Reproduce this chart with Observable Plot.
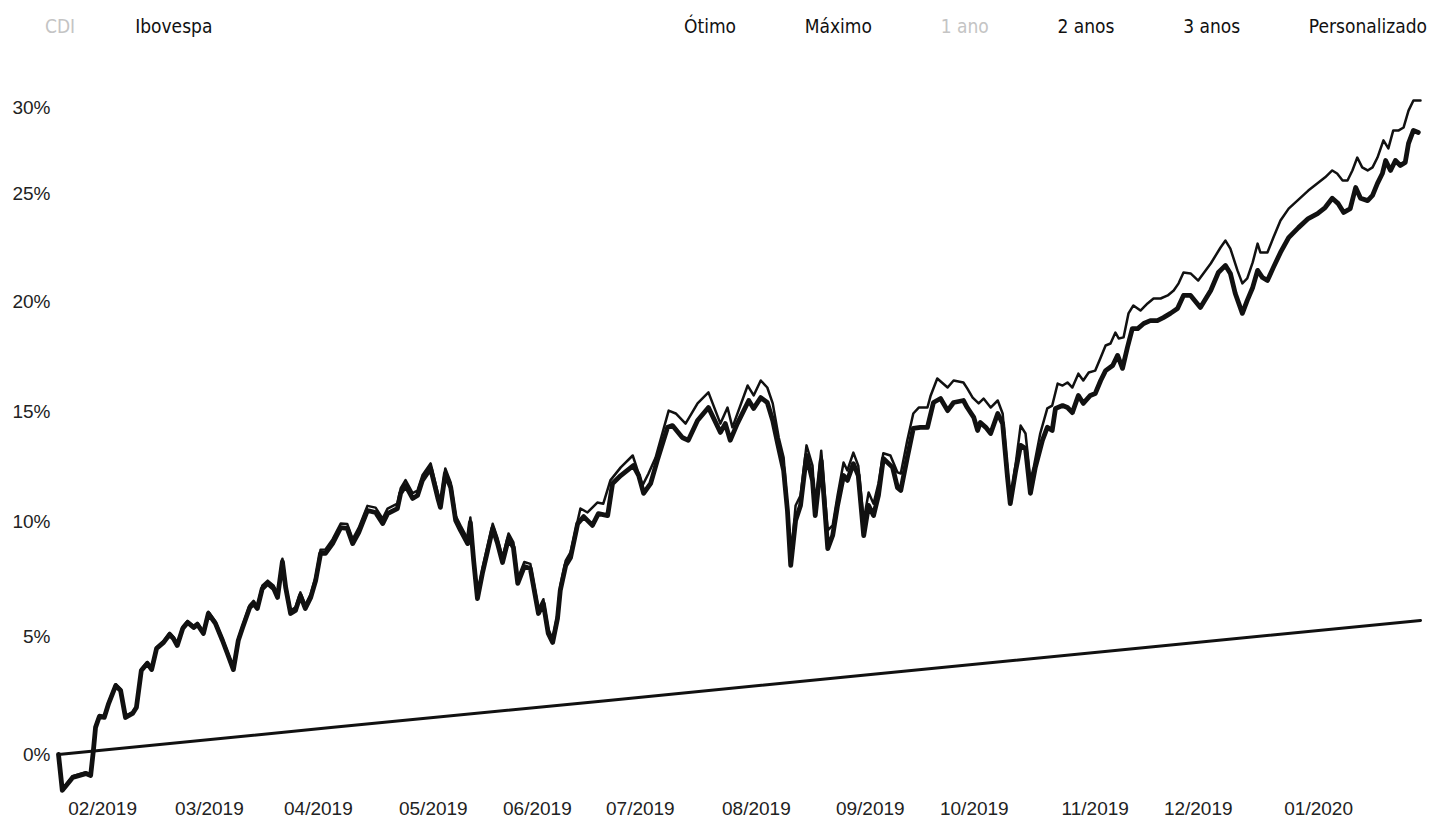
<!DOCTYPE html>
<html>
<head>
<meta charset="utf-8">
<script src="https://cdn.jsdelivr.net/npm/d3@7"></script>
<script src="https://cdn.jsdelivr.net/npm/@observablehq/plot@0.6"></script>
<style>
  html, body { margin: 0; padding: 0; background: #fff; }
  #wrap { width: 1441px; height: 824px; position: relative; overflow: hidden; }
  #header { position: relative; height: 50px; width: 1441px;
    font-family: "Liberation Sans Narrow", "DejaVu Sans Condensed", Roboto, sans-serif;
    font-size: 19px; color: #111; }
  #legend { position: absolute; left: 45px; top: 15px; display: flex; gap: 60px; }
  #periods { position: absolute; left: 684px; right: 14px; top: 15px; display: flex; justify-content: space-between; }
  .faint { color: #c4c4c4; }
  svg { display: block; }
</style>
</head>
<body>
<div id="wrap">
  <div id="header"><div id="legend"></div><div id="periods"></div></div>
  <div id="chart"></div>
</div>
<script>
// ---- Data ----
const legendLabels = ["CDI", "Ibovespa"];
const legendFaint = [true, false];
const periodLabels = ["Ótimo", "Máximo", "1 ano", "2 anos", "3 anos", "Personalizado"];
const periodFaint = [false, false, true, false, false, false];

// x = trading-day index (0 … 250)
const tickDays = [8.1, 27.7, 47.7, 68.8, 87.9, 106.8, 128.1, 149.0, 168.1, 190.3, 209.2, 231.3];
const tickLabels = ["02/2019", "03/2019", "04/2019", "05/2019", "06/2019", "07/2019", "08/2019", "09/2019", "10/2019", "11/2019", "12/2019", "01/2020"];
const yTicks = [0, 5, 10, 15, 20, 25, 30];

// Thick series (fund), % return
const fundoDias = [0.0,0.7,2.6,5.0,5.9,6.4,6.8,7.5,8.4,9.2,10.5,11.4,12.3,13.6,14.3,15.2,16.3,17.1,18.0,19.3,20.4,21.1,21.8,22.8,23.7,24.8,25.5,26.6,27.5,28.8,30.1,31.0,32.1,33.0,33.8,35.1,35.8,36.5,37.4,38.4,39.5,40.2,41.1,41.7,42.6,43.5,44.4,45.3,46.3,47.2,48.1,49.0,50.3,51.8,53.0,54.0,55.1,56.7,58.2,59.5,60.4,62.2,62.8,63.7,65.0,65.9,66.8,68.3,69.6,70.1,71.0,72.0,72.9,73.8,75.1,75.6,76.2,76.9,77.8,79.7,80.6,81.5,82.6,83.5,84.3,85.5,86.6,88.1,89.0,89.9,90.7,91.6,92.1,93.1,94.0,95.3,96.4,98.0,99.1,100.8,101.7,103.2,105.5,106.5,107.4,108.7,109.9,111.8,112.7,114.5,115.6,117.3,119.3,121.5,122.4,123.3,124.6,126.7,127.6,128.9,130.1,131.1,132.0,133.1,133.8,134.4,135.3,136.2,137.3,138.4,138.9,140.0,141.2,142.1,143.0,144.1,144.8,145.9,146.8,147.8,148.7,149.6,150.5,151.4,153.1,154.0,154.6,155.8,156.9,158.2,159.5,160.6,161.9,163.2,164.3,166.1,166.8,168.0,168.7,169.2,170.2,171.1,172.4,173.3,174.2,174.7,175.7,176.6,177.5,178.4,179.3,180.6,181.5,182.4,183.0,184.3,185.2,186.1,187.2,188.1,189.4,190.3,191.3,192.2,193.5,194.4,195.3,196.2,197.1,198.1,199.2,200.4,201.7,202.8,204.1,205.4,206.5,207.8,209.6,211.5,212.9,214.2,215.1,216.0,217.3,218.2,219.2,220.1,221.0,221.9,223.0,224.3,225.8,227.6,229.4,231.1,232.5,233.8,234.9,235.9,237.1,238.1,239.0,240.3,241.2,242.1,243.0,243.6,244.5,245.4,246.3,247.2,247.8,248.7,249.6];
const fundoValores = [0.00,-1.52,-0.97,-0.81,-0.89,0.16,1.15,1.61,1.57,2.16,2.92,2.71,1.57,1.74,1.99,3.56,3.86,3.60,4.49,4.75,5.09,4.91,4.62,5.35,5.61,5.39,5.52,5.13,6.00,5.57,4.83,4.28,3.60,4.83,5.39,6.26,6.43,6.22,7.08,7.31,7.08,6.70,8.26,7.13,6.00,6.13,6.78,6.22,6.70,7.43,8.61,8.61,9.04,9.73,9.70,9.04,9.52,10.50,10.41,9.91,10.36,10.59,11.28,11.64,11.05,11.18,11.87,12.41,11.09,10.64,12.18,11.54,10.05,9.61,9.04,9.96,8.31,6.65,7.74,9.70,9.04,8.22,9.26,8.87,7.31,8.04,7.96,6.00,6.43,5.13,4.75,5.79,7.00,8.09,8.44,9.91,10.22,9.83,10.36,10.27,11.73,12.09,12.54,12.09,11.28,11.73,12.77,14.28,14.36,13.82,13.69,14.59,15.18,14.05,14.45,13.69,14.45,15.50,15.14,15.63,15.41,14.59,13.55,12.32,10.50,8.09,10.05,10.73,13.00,11.87,10.27,12.77,8.82,9.39,10.73,12.09,11.87,12.63,12.09,9.39,10.73,10.27,11.18,12.86,12.46,11.54,11.41,12.91,14.23,14.28,14.28,15.41,15.59,15.04,15.41,15.50,15.18,14.73,14.14,14.50,14.28,14.00,14.91,14.45,12.00,10.81,12.32,13.46,13.32,11.28,12.46,13.69,14.28,14.14,15.14,15.27,15.18,14.95,15.73,15.37,15.73,15.82,16.41,16.86,17.09,17.55,16.96,17.91,18.77,18.77,19.00,19.13,19.13,19.27,19.46,19.68,20.28,20.28,19.73,20.51,21.34,21.67,21.30,20.37,19.46,20.05,20.65,21.44,21.11,20.97,21.58,22.27,22.96,23.42,23.84,24.07,24.35,24.78,24.53,24.12,24.30,25.35,24.78,24.67,24.91,25.59,26.16,26.92,26.34,26.92,26.63,26.81,27.91,28.67,28.55];

// Thin series (Ibovespa), % return
const ibovDias = [0.0,0.7,2.6,5.0,5.9,6.4,6.8,7.5,8.4,9.2,10.5,11.4,12.3,13.6,14.3,15.2,16.3,17.1,18.0,19.3,20.4,21.1,21.8,22.8,23.7,24.8,25.5,26.6,27.5,28.8,30.1,31.0,32.1,33.0,33.8,35.1,35.8,36.5,37.4,38.4,39.5,40.2,41.1,41.7,42.6,43.5,44.4,45.3,46.3,47.2,48.1,49.0,50.3,51.8,53.0,54.0,55.1,56.7,58.2,59.5,60.4,62.2,62.8,63.7,65.0,65.9,66.8,68.3,69.6,70.1,71.0,72.0,72.9,73.8,75.1,75.6,76.2,76.9,77.8,79.7,80.6,81.5,82.6,83.5,84.3,85.5,86.6,88.1,89.0,89.9,90.7,91.6,92.1,93.1,94.0,95.8,97.1,98.9,100.0,101.3,103.2,105.4,106.3,107.2,108.3,109.6,112.0,113.3,115.1,117.3,119.3,121.5,122.8,123.7,126.5,127.6,128.9,130.1,131.1,132.2,133.1,133.8,134.4,135.3,136.2,137.3,138.4,138.9,140.0,141.2,142.1,143.0,144.1,144.8,145.9,146.8,147.8,148.7,149.6,150.5,151.4,152.7,154.0,154.6,155.8,156.9,157.9,159.5,160.1,161.3,163.2,164.3,166.1,166.8,167.8,168.9,169.8,171.1,172.4,173.3,174.2,174.7,175.7,176.6,177.5,178.4,179.0,180.2,181.5,182.4,183.4,184.3,185.2,186.1,187.2,188.1,189.1,190.3,191.3,192.2,193.1,194.0,194.6,195.5,196.4,197.3,198.6,199.9,201.0,202.3,203.6,204.7,205.6,206.5,207.8,209.2,211.5,213.3,214.2,215.1,216.4,217.3,218.2,219.2,220.1,220.6,221.9,223.0,224.3,225.8,227.4,229.4,231.1,232.5,233.8,234.7,235.7,236.6,237.5,238.4,239.3,240.3,241.2,242.1,243.2,244.1,245.0,246.0,246.9,247.8,248.7,250.0];
const ibovValores = [0.00,-1.47,-0.92,-0.75,-0.82,0.23,1.21,1.67,1.63,2.22,2.98,2.77,1.63,1.80,2.05,3.62,3.92,3.67,4.55,4.81,5.16,4.98,4.69,5.43,5.68,5.47,5.60,5.21,6.08,5.65,4.91,4.37,3.69,4.92,5.48,6.37,6.55,6.33,7.21,7.43,7.21,6.83,8.38,7.26,6.13,6.27,6.92,6.37,6.85,7.59,8.77,8.78,9.22,9.91,9.89,9.23,9.72,10.71,10.63,10.13,10.59,10.81,11.50,11.88,11.29,11.41,12.10,12.64,11.33,10.87,12.41,11.76,10.26,9.82,9.25,10.18,8.50,6.83,7.94,9.90,9.26,8.44,9.48,9.09,7.51,8.24,8.16,6.19,6.62,5.31,4.91,5.97,7.21,8.30,8.67,10.59,10.41,10.86,10.81,11.87,12.46,13.00,12.32,11.64,12.18,12.91,15.04,14.91,14.45,15.37,15.87,14.45,15.18,14.28,16.18,15.73,16.41,16.09,15.37,13.82,12.91,10.64,8.31,10.73,11.18,13.46,12.54,10.50,13.22,9.61,9.83,11.18,12.68,12.32,13.13,12.54,10.05,11.32,10.81,11.73,13.10,13.00,12.23,12.18,13.69,14.91,15.18,15.18,15.73,16.50,16.09,16.41,16.32,16.05,15.63,15.37,15.59,15.18,15.50,14.91,12.32,10.95,12.63,14.36,14.00,11.87,12.46,14.00,15.14,15.27,16.27,16.18,16.32,16.09,16.72,16.41,16.77,16.86,17.45,18.00,18.09,18.59,18.32,18.37,19.46,19.82,19.59,19.91,20.14,20.14,20.28,20.51,20.84,21.34,21.30,20.97,21.76,22.50,22.82,22.45,21.44,20.84,21.07,21.81,22.68,22.27,22.27,22.96,23.75,24.30,24.67,25.17,25.59,25.94,26.34,26.16,25.76,25.76,26.34,27.09,26.52,26.34,26.52,27.09,28.09,27.62,28.67,28.67,28.84,29.82,30.41,30.41];

// Straight series (CDI), % return
const cdiDias = [0, 50, 100, 150, 200, 250];
const cdiValores = [0.00, 1.14, 2.27, 3.41, 4.54, 5.70];

// ---- Header ----
const legend = document.getElementById("legend");
legendLabels.forEach((t, i) => {
  const s = document.createElement("span");
  s.textContent = t;
  if (legendFaint[i]) s.className = "faint";
  legend.appendChild(s);
});
const periods = document.getElementById("periods");
periodLabels.forEach((t, i) => {
  const s = document.createElement("span");
  s.textContent = t;
  if (periodFaint[i]) s.className = "faint";
  periods.appendChild(s);
});

// ---- Chart ----
const toRows = (xs, ys) => xs.map((d, i) => ({d, v: ys[i]}));
const labelOf = new Map(tickDays.map((d, i) => [d, tickLabels[i]]));

const chart = Plot.plot({
  width: 1441,
  height: 774,
  marginTop: 57,
  marginBottom: 70,
  marginLeft: 58,
  marginRight: 21,
  style: {fontFamily: "'Liberation Sans', Arial, sans-serif", fontSize: "19px", color: "#222", background: "#fff"},
  x: {domain: [0, 250], axis: null},
  // the printed axis is slightly uneven; a piecewise scale keeps each tick where the picture has it
  y: {type: "linear", domain: yTicks, range: [704, 586, 471, 361, 251, 143, 57], axis: null},
  marks: [
    Plot.axisY(yTicks, {tickSize: 0, tickPadding: 8, tickFormat: d => d + "%", fontSize: 19, label: null}),
    Plot.axisX(tickDays, {tickSize: 0, tickPadding: 47, tickFormat: d => labelOf.get(d), fontSize: 19, label: null}),
    Plot.line(toRows(cdiDias, cdiValores), {x: "d", y: "v", stroke: "#111", strokeWidth: 3}),
    Plot.line(toRows(fundoDias, fundoValores), {x: "d", y: "v", stroke: "#111", strokeWidth: 4.8, strokeLinejoin: "round"}),
    Plot.line(toRows(ibovDias, ibovValores), {x: "d", y: "v", stroke: "#111", strokeWidth: 2.5, strokeLinejoin: "round"})
  ]
});
document.getElementById("chart").appendChild(chart);
</script>
</body>
</html>
